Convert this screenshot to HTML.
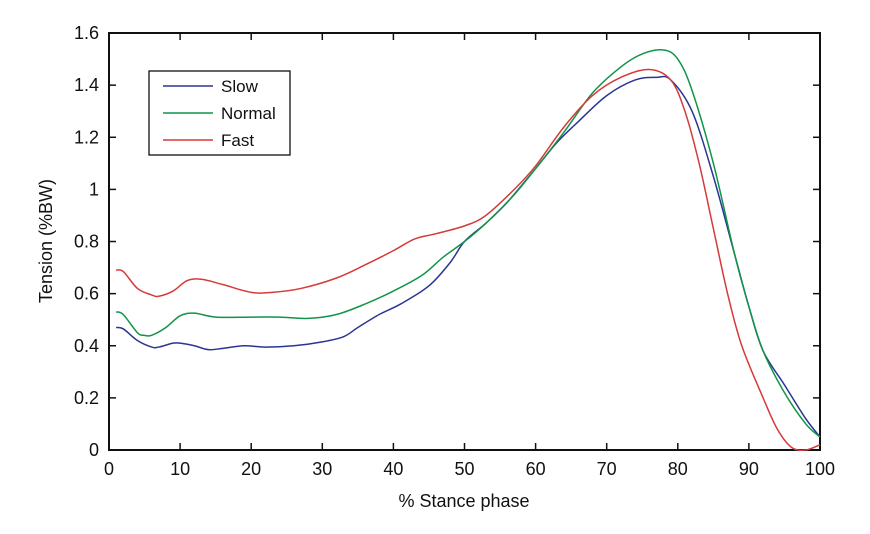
<!DOCTYPE html>
<html><head><meta charset="utf-8"><style>
html,body{margin:0;padding:0;background:#fff;}
svg{display:block;font-family:"Liberation Sans",sans-serif;}
</style></head><body>
<svg id="s" width="870" height="534" viewBox="0 0 870 534" xmlns="http://www.w3.org/2000/svg">
<rect x="109" y="33" width="711" height="417" fill="none" stroke="#111" stroke-width="2"/>
<g id="ticks" stroke="#111" stroke-width="1.5"></g>
<g id="labels" font-size="18" fill="#111"></g>
<g id="lines" fill="none" stroke-width="1.5"></g>
<rect x="149" y="71" width="141" height="84" fill="#fff" stroke="#111" stroke-width="1.3"/>
<line x1="163" y1="86" x2="213" y2="86" stroke="#2b3593" stroke-width="1.5"/>
<line x1="163" y1="113" x2="213" y2="113" stroke="#109448" stroke-width="1.5"/>
<line x1="163" y1="140" x2="213" y2="140" stroke="#d63a3a" stroke-width="1.5"/>
<text x="221" y="92" font-size="17" fill="#111">Slow</text>
<text x="221" y="119" font-size="17" fill="#111">Normal</text>
<text x="221" y="146" font-size="17" fill="#111">Fast</text>
<text x="464" y="507" font-size="18" fill="#111" text-anchor="middle">% Stance phase</text>
<text transform="translate(52,241) rotate(-90)" font-size="18" fill="#111" text-anchor="middle">Tension (%BW)</text>
</svg>
<script>
var X=function(p){return 109+7.11*p},Y=function(v){return 450-260.6*v};
var ns="http://www.w3.org/2000/svg",t=document.getElementById('ticks'),l=document.getElementById('labels');
function el(p,tag,a,txt){var e=document.createElementNS(ns,tag);for(var k in a)e.setAttribute(k,a[k]);if(txt!=null)e.textContent=txt;p.appendChild(e);}
for(var i=0;i<=10;i++){var x=X(i*10);
 if(i>0&&i<10){el(t,'line',{x1:x,y1:450,x2:x,y2:443});el(t,'line',{x1:x,y1:33,x2:x,y2:40});}
 el(l,'text',{x:x,y:475,'text-anchor':'middle'},String(i*10));}
for(var j=0;j<=8;j++){var v=j*0.2,y=Y(v);
 if(j>0&&j<8){el(t,'line',{x1:109,y1:y,x2:116,y2:y});el(t,'line',{x1:820,y1:y,x2:813,y2:y});}
 var s=j==0?'0':j==5?'1':(Math.round(v*10)/10).toString();
 el(l,'text',{x:99,y:y+6,'text-anchor':'end'},s);}
var D={
'#2b3593':[[1,0.47],[2,0.465],[4,0.42],[6,0.395],[7,0.395],[9,0.41],[10,0.41],[12,0.4],[14,0.385],[16,0.39],[19,0.4],[22,0.395],[26,0.4],[30,0.415],[33,0.435],[35,0.47],[38,0.52],[41,0.56],[45,0.63],[48,0.72],[50,0.8],[53,0.87],[56,0.95],[60,1.08],[63,1.18],[66,1.26],[70,1.36],[74,1.42],[77,1.43],[79,1.42],[82,1.3],[85,1.05],[88,0.75],[90,0.55],[92,0.38],[95,0.25],[98,0.12],[100,0.05]],
'#109448':[[1,0.53],[2,0.52],[4,0.45],[5,0.44],[6,0.44],[8,0.47],[10,0.515],[12,0.525],[15,0.51],[20,0.51],[24,0.51],[28,0.505],[32,0.52],[36,0.56],[40,0.61],[44,0.67],[47,0.74],[50,0.8],[53,0.87],[57,0.98],[60,1.08],[64,1.22],[68,1.37],[72,1.47],[75,1.52],[78,1.535],[80,1.5],[82,1.38],[85,1.1],[88,0.75],[90,0.55],[92,0.38],[95,0.22],[98,0.1],[100,0.05]],
'#d63a3a':[[1,0.69],[2,0.685],[4,0.62],[6,0.595],[7,0.59],[9,0.61],[11,0.65],[13,0.655],[16,0.635],[20,0.605],[23,0.605],[27,0.62],[32,0.66],[36,0.71],[40,0.765],[43,0.81],[46,0.83],[50,0.86],[53,0.9],[57,1.0],[60,1.09],[64,1.24],[68,1.36],[72,1.43],[76,1.46],[79,1.42],[81,1.3],[83,1.1],[85,0.85],[87,0.6],[89,0.4],[92,0.2],[94,0.08],[96,0.01],[98,0.0],[100,0.02]]};
var g=document.getElementById('lines');
for(var c in D){var P=D[c].map(function(q){return[X(q[0]),Y(q[1])]});
 var d='M'+P[0][0]+','+P[0][1];
 for(var k=0;k<P.length-1;k++){var p0=P[Math.max(k-1,0)],p1=P[k],p2=P[k+1],p3=P[Math.min(k+2,P.length-1)];
  d+=' C'+(p1[0]+(p2[0]-p0[0])/6)+','+(p1[1]+(p2[1]-p0[1])/6)+' '+(p2[0]-(p3[0]-p1[0])/6)+','+(p2[1]-(p3[1]-p1[1])/6)+' '+p2[0]+','+p2[1];}
 el(g,'path',{d:d,stroke:c});}
</script>
</body></html>
